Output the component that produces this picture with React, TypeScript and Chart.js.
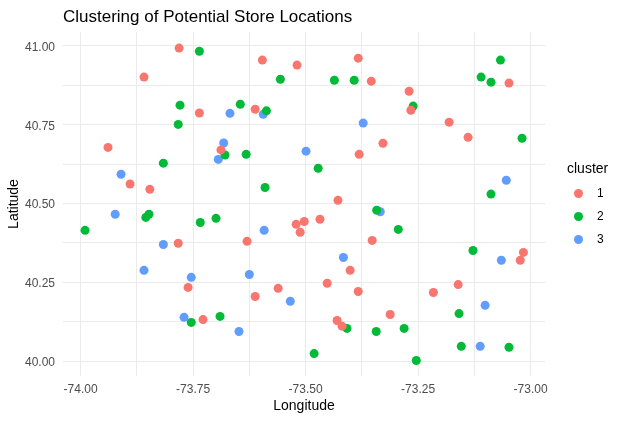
import React, { useEffect, useRef } from "react";
import { Chart, registerables } from "chart.js";

Chart.register(...registerables);

const titleText = "Clustering of Potential Store Locations";
const xTitle = "Longitude";
const yTitle = "Latitude";
const legendTitle = "cluster";
const clusterLabels = ["1", "2", "3"];
const clusterColors = ["#F8766D", "#00BA38", "#619CFF"];

const c1Lon = [-73.781, -73.859, -73.736, -73.939, -73.688, -73.890, -73.846, -73.596, -73.519, -73.383, -73.354, -73.612, -73.381, -73.328, -73.428, -73.048, -73.270, -73.266, -73.181, -73.139, -73.783, -73.761, -73.728, -73.521, -73.503, -73.512, -73.468, -73.630, -73.352, -73.401, -73.452, -73.383, -73.561, -73.612, -73.312, -73.430, -73.419, -73.016, -73.023, -73.161, -73.216];
const c1Lat = [40.993, 40.901, 40.787, 40.678, 40.670, 40.562, 40.545, 40.955, 40.939, 40.961, 40.888, 40.799, 40.656, 40.691, 40.510, 40.882, 40.856, 40.796, 40.758, 40.710, 40.374, 40.234, 40.132, 40.434, 40.443, 40.409, 40.450, 40.380, 40.383, 40.288, 40.247, 40.221, 40.231, 40.205, 40.148, 40.129, 40.111, 40.345, 40.320, 40.243, 40.218];

const c2Lon = [-73.736, -73.779, -73.783, -73.679, -73.816, -73.556, -73.436, -73.392, -73.645, -73.587, -73.632, -73.472, -73.590, -73.067, -73.110, -73.088, -73.261, -73.019, -73.088, -73.855, -73.848, -73.990, -73.734, -73.699, -73.754, -73.690, -73.342, -73.408, -73.343, -73.481, -73.294, -73.128, -73.159, -73.281, -73.154, -73.048, -73.254];
const c2Lat = [40.983, 40.812, 40.751, 40.654, 40.628, 40.894, 40.891, 40.891, 40.815, 40.794, 40.656, 40.612, 40.551, 40.955, 40.901, 40.885, 40.809, 40.707, 40.530, 40.456, 40.466, 40.415, 40.440, 40.453, 40.123, 40.142, 40.479, 40.104, 40.094, 40.024, 40.418, 40.351, 40.151, 40.104, 40.047, 40.044, 40.002];

const c3Lon = [-73.668, -73.682, -73.694, -73.910, -73.594, -73.372, -73.499, -73.054, -73.923, -73.816, -73.859, -73.754, -73.770, -73.334, -73.592, -73.416, -73.625, -73.534, -73.648, -73.065, -73.101, -73.112];
const c3Lat = [40.786, 40.692, 40.640, 40.593, 40.783, 40.755, 40.666, 40.574, 40.466, 40.370, 40.288, 40.266, 40.139, 40.474, 40.415, 40.329, 40.275, 40.190, 40.094, 40.320, 40.177, 40.047];

const xTicks = [-74.0, -73.875, -73.75, -73.625, -73.5, -73.375, -73.25, -73.125, -73.0];
const yTicks = [40.0, 40.125, 40.25, 40.375, 40.5, 40.625, 40.75, 40.875, 41.0];

const FONT = "'Liberation Sans', Arial, sans-serif";

const isMajor = (v: number) => Math.abs(v * 4 - Math.round(v * 4)) < 1e-6;

const extrasPlugin = {
  id: "extras",
  afterDraw(chart: any) {
    const ctx = chart.ctx as CanvasRenderingContext2D;
    const area = chart.chartArea;
    ctx.save();
    ctx.fillStyle = "#000000";
    ctx.font = `17px ${FONT}`;
    ctx.textAlign = "left";
    ctx.textBaseline = "alphabetic";
    ctx.fillText(titleText, area.left, 22);

    ctx.font = `14px ${FONT}`;
    ctx.fillText(legendTitle, 567, 173);
    ctx.font = `12px ${FONT}`;
    ctx.textBaseline = "middle";
    clusterLabels.forEach((lab, i) => {
      const y = 193.5 + i * 23;
      ctx.beginPath();
      ctx.fillStyle = clusterColors[i];
      ctx.arc(578.5, y, 4.5, 0, Math.PI * 2);
      ctx.fill();
      ctx.fillStyle = "#000000";
      ctx.fillText(lab, 597, y + 0.5);
    });
    ctx.restore();
  },
};

export default function App() {
  const ref = useRef<HTMLCanvasElement>(null);
  useEffect(() => {
    document.body.style.margin = "0";
    const toPts = (xs: number[], ys: number[]) => xs.map((x, i) => ({ x, y: ys[i] }));
    const chart = new Chart(ref.current!, {
      type: "scatter",
      data: {
        datasets: [
          { label: clusterLabels[0], data: toPts(c1Lon, c1Lat), backgroundColor: clusterColors[0] },
          { label: clusterLabels[1], data: toPts(c2Lon, c2Lat), backgroundColor: clusterColors[1] },
          { label: clusterLabels[2], data: toPts(c3Lon, c3Lat), backgroundColor: clusterColors[2] },
        ],
      },
      options: {
        animation: false,
        responsive: false,
        events: [],
        font: { family: FONT },
        elements: { point: { radius: 4.5, borderWidth: 0, hoverRadius: 4.5 } },
        layout: { padding: { top: 32, right: 81, left: 0, bottom: 0 } },
        plugins: { legend: { display: false }, title: { display: false }, tooltip: { enabled: false } },
        scales: {
          x: {
            type: "linear",
            min: -74.039,
            max: -72.968,
            afterBuildTicks: (s: any) => { s.ticks = xTicks.map((v) => ({ value: v })); },
            afterFit: (s: any) => { s.height = 45; },
            grid: { color: "#ebebeb", lineWidth: 1, drawTicks: false },
            border: { display: false },
            ticks: {
              color: "#4d4d4d",
              font: { family: FONT, size: 12 },
              padding: 6,
              maxRotation: 0,
              autoSkip: false,
              callback: (v: any) => (isMajor(Number(v)) ? Number(v).toFixed(2) : ""),
            },
            title: { display: true, text: xTitle, color: "#000000", font: { family: FONT, size: 14 }, padding: { top: 0, bottom: 6 } },
          },
          y: {
            type: "linear",
            min: 39.953,
            max: 41.044,
            afterBuildTicks: (s: any) => { s.ticks = yTicks.map((v) => ({ value: v })); },
            afterFit: (s: any) => { s.width = 63; },
            grid: { color: "#ebebeb", lineWidth: 1, drawTicks: false },
            border: { display: false },
            ticks: {
              color: "#4d4d4d",
              font: { family: FONT, size: 12 },
              padding: 8,
              labelOffset: 1.5,
              autoSkip: false,
              callback: (v: any) => (isMajor(Number(v)) ? Number(v).toFixed(2) : ""),
            },
            title: { display: true, text: yTitle, color: "#000000", font: { family: FONT, size: 14 }, padding: { top: 6, bottom: 0 } },
          },
        },
      },
      plugins: [extrasPlugin],
    });
    return () => chart.destroy();
  }, []);
  return (
    <div style={{ width: 626, height: 421, background: "#ffffff" }}>
      <canvas ref={ref} width={626} height={421} style={{ width: 626, height: 421, display: "block" }} />
    </div>
  );
}
